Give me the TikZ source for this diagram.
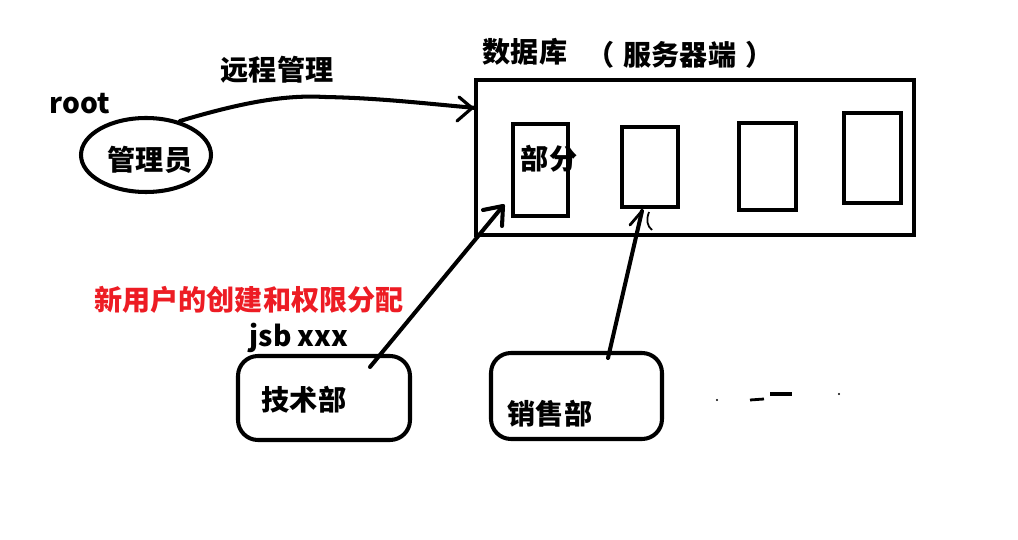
\documentclass[tikz,border=0pt]{standalone}
\usepackage{fontspec}
\setmainfont{Noto Sans CJK SC}
\begin{document}
\begin{tikzpicture}[x=0.02cm,y=-0.02cm,
  lbl/.style={font=\fontsize{16}{18}\selectfont\bfseries, inner sep=0pt},
  box/.style={draw, line width=2.3pt},
  rbox/.style={draw, line width=2.3pt, rounded corners=0.4cm},
  conn/.style={line width=2.3pt, line cap=round, line join=round}]
\useasboundingbox (0,0) rectangle (1018,540);
% admin
\node[lbl] (root) at (80,104) {root};
\draw[line width=2.3pt] (146,155) ellipse [x radius=65, y radius=37];
\node[lbl] (admin) at (150,160) {管理员};
\coordinate (ellTR) at (180,121);
% database
\node[lbl] (dbtitle) at (525,52) {数据库};
\node[lbl] (server) at (680,55) {（\hspace{5pt}服务器端\hspace{5pt}）};
\draw[line width=2.8pt] (476,80) rectangle (914,235);
\coordinate (db) at (476,108);
\draw[box] (513,124) rectangle (568,216);
\node[lbl] (part) at (549,159) {部分};
\draw[box] (622,127) rectangle (678,207);
\draw[box] (739,123) rectangle (796,210);
\draw[box] (844,113) rectangle (901,203);
\coordinate (p1in) at (503,206);
\coordinate (p2in) at (642,211);
% remote management arrow
\node[lbl] (remote) at (277,70) {远程管理};
\draw[conn] (ellTR) .. controls (250,100) and (290,95) .. (325,97)
  .. controls (380,98) and (430,104) .. (db);
\draw[line width=1.8pt, line cap=round] (459,97) -- (472,108) -- (457,121);
% red label
\node[lbl, text={rgb,255:red,237;green,28;blue,36}] (newuser) at (249,300) {新用户的创建和权限分配};
\node[lbl] (jsb) at (299,338) {jsb xxx};
% departments
\draw[rbox] (238,356) rectangle (410,440);
\node[lbl] (tech) at (304,400) {技术部};
\coordinate (techout) at (370,367);
\draw[rbox] (491,353) rectangle (662,439);
\node[lbl] (sales) at (550,414) {销售部};
\coordinate (salesout) at (608,358);
% arrows from departments
\draw[conn] (techout) -- (p1in);
\draw[conn] (483,210) -- (p1in) -- (502,226);
\draw[conn] (salesout) -- (p2in);
\draw[line width=1.6pt, line cap=round] (p2in) -- (630,225);
\draw[line width=1pt] (649,212) .. controls (646,220) and (647,226) .. (652,230);
% stray marks
\coordinate (m1) at (717,400);
\fill (m1) circle (1.2);
\draw[line width=1.6pt] (750,400) -- (764,399);
\draw[line width=1.8pt] (770,394) -- (792,394);
\coordinate (m2) at (839,394);
\fill (m2) circle (1.2);
\end{tikzpicture}
\end{document}
